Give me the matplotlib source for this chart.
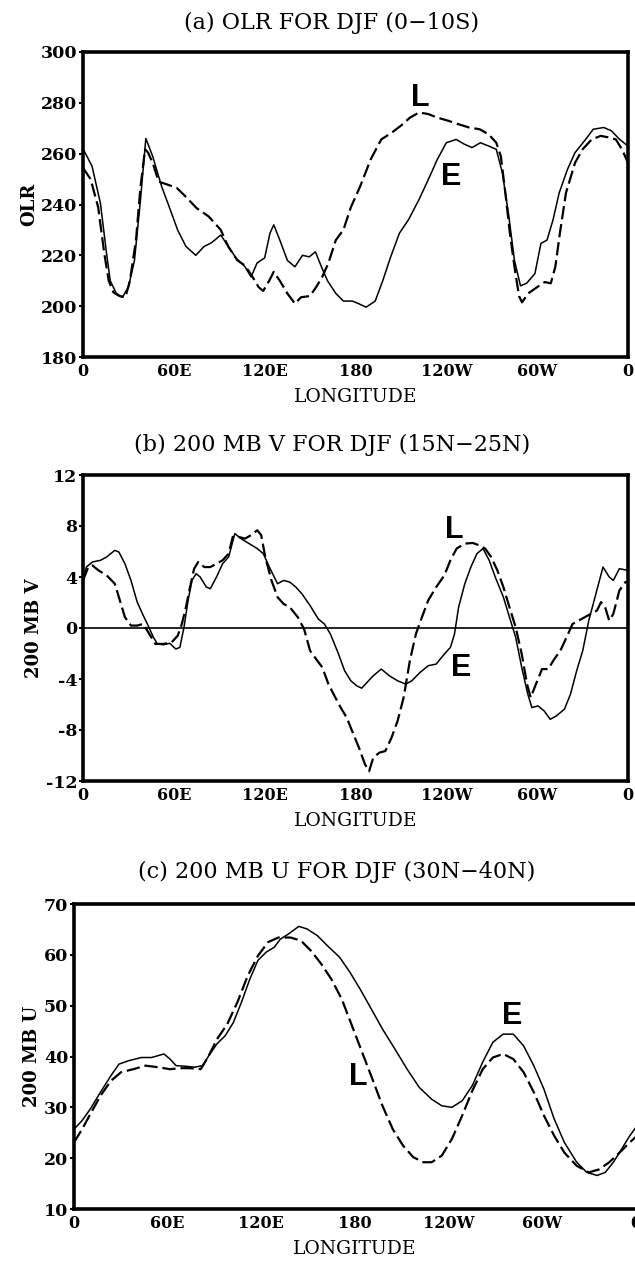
import matplotlib.pyplot as plt

# Longitude tick labels shared by all three panels
lon_ticks = [0, 60, 120, 180, 240, 300, 360]
lon_labels = ['0', '60E', '120E', '180', '120W', '60W', '0']

# (a) OLR, 0-10S
lon_a_e = [0, 6, 11.5, 15.5, 18, 22, 26, 30, 34, 38, 41.5, 46, 52, 57, 62.5, 68, 74.5, 80, 85, 91,
           96, 101, 107, 111, 115, 120, 123.5, 126, 130, 135, 140, 145, 149.5, 153.5, 157.5, 161.5,
           167, 172, 178, 182, 187, 193, 198, 203, 209, 215, 222, 229, 234, 240, 246.5, 252, 257,
           262.5, 268, 273, 277, 281, 285, 289, 293, 298.5, 302.5, 306.5, 310.5, 314.5, 320, 325,
           332, 337, 344, 349, 354.5, 360]
olr_e = [262, 255, 240.5, 221, 210, 205, 203.5, 207.5, 218, 242, 266, 259, 247, 239, 230, 223.5,
         220, 223.5, 225, 228, 223.5, 219, 215.5, 211.5, 217, 219, 228.7, 232, 226, 218, 215.5, 220,
         219.4, 221.4, 215.5, 210, 205, 202, 202, 201, 199.6, 202, 210, 219, 228.7, 234, 242, 251,
         257.7, 264.3, 265.6, 263.7, 262.4, 264.3, 263, 261.7, 252.5, 236.6, 218, 208, 209, 212.8,
         224.7, 226, 234, 244.5, 253.8, 260.4, 265.6, 269.6, 270.3, 269, 265.6, 263]
lon_a_l = [0, 5, 10, 14, 17, 20, 24, 28, 31, 35, 38, 41, 43, 46, 50, 55, 62, 68, 75, 83, 91, 96,
           102, 107, 112, 116, 119, 123, 126, 130, 135, 140, 144, 150, 154, 158, 162, 167, 172, 177,
           183, 190, 197, 204, 210, 216, 222, 228, 234, 241, 248, 255, 262, 268, 273, 276, 279, 282,
           285, 288, 290, 294, 300, 305, 309, 312, 315, 319, 325, 330, 336, 342, 348, 352, 356, 360]
olr_l = [254.4, 250, 239, 221, 210, 205.5, 204, 203.5, 210, 226, 247, 261.7, 260.4, 256.4, 249,
         248, 246.5, 243, 238.6, 235.3, 230, 223.4, 218, 216, 211.5, 207.5, 206, 210, 213.5, 210,
         205, 201, 203.5, 204, 207.5, 211.5, 216.8, 226, 230, 239, 247, 257.7, 265.6, 268.3, 271,
         274.2, 276.2, 275.6, 274.2, 273, 271.6, 270.3, 269.6, 267.6, 264.3, 259, 244.5, 228.7,
         215.5, 204, 201.5, 205, 207.5, 209.5, 209, 215.5, 228.7, 244.5, 256.4, 261.7, 265.6, 267,
         266.3, 265.6, 261.7, 256.4]

# (b) 200 mb V, 15N-25N
lon_b_e = [0, 2.2, 6.2, 11.6, 15.6, 21.0, 23.7, 27.7, 31.7, 35.8, 39.8, 42.5, 46.5, 49.2, 53.2,
           57.3, 61.3, 64.0, 66.7, 69.4, 72.0, 74.7, 77.4, 81.5, 84.1, 88.2, 92.2, 96.2, 100.3,
           104.3, 109.7, 115.1, 119.1, 123.1, 128.5, 132.5, 136.6, 140.6, 144.6, 150.0, 155.4,
           159.4, 163.4, 168.8, 172.8, 176.9, 180.9, 184.1, 187.6, 191.7, 197.0, 202.4, 207.8,
           213.2, 217.2, 222.6, 228.0, 233.3, 238.7, 242.7, 245.4, 248.1, 252.2, 256.2, 260.2,
           264.2, 268.3, 272.3, 277.7, 281.7, 285.8, 289.8, 293.8, 296.5, 300.5, 304.6, 308.6,
           312.6, 318.0, 322.0, 326.1, 330.1, 334.1, 338.2, 343.5, 347.6, 350.3, 354.3, 360]
v_e = [3.6, 4.78, 5.18, 5.31, 5.57, 6.09, 5.96, 5.04, 3.73, 2.03, 0.98, 0.32, -0.73, -1.25, -1.31,
       -1.2, -1.65, -1.52, 0.06, 2.16, 3.73, 4.26, 4.0, 3.21, 3.08, 4.0, 5.04, 5.57, 7.41, 7.01,
       6.62, 6.23, 5.83, 4.78, 3.47, 3.73, 3.6, 3.21, 2.68, 1.76, 0.71, 0.32, -0.47, -2.04, -3.35,
       -4.14, -4.54, -4.72, -4.27, -3.75, -3.22, -3.75, -4.14, -4.4, -4.14, -3.49, -2.96, -2.83,
       -2.04, -1.52, -0.47, 1.63, 3.47, 4.78, 5.83, 6.23, 5.31, 4.0, 2.42, 0.85, -0.73, -3.09,
       -5.19, -6.24, -6.11, -6.5, -7.16, -6.9, -6.37, -5.19, -3.35, -1.78, 0.58, 2.42, 4.78, 4.0,
       3.73, 4.65, 4.52]
lon_b_l = [0, 3.5, 6.2, 10.2, 15.6, 21.0, 23.7, 27.7, 31.7, 35.8, 39.8, 43.8, 47.8, 53.2, 58.6,
           62.6, 65.3, 68.0, 70.7, 73.4, 76.1, 80.1, 84.1, 88.2, 92.2, 96.2, 98.9, 103.0, 107.0,
           111.0, 115.1, 117.7, 120.4, 124.5, 128.5, 132.5, 136.6, 141.9, 146.0, 150.0, 154.0,
           158.1, 162.1, 166.1, 170.2, 174.2, 178.2, 182.3, 186.3, 189.0, 191.7, 195.7, 199.7,
           203.8, 207.8, 211.8, 215.9, 219.9, 223.9, 228.0, 233.3, 238.7, 242.7, 246.8, 252.2,
           257.5, 261.6, 265.6, 269.6, 273.7, 277.7, 281.7, 285.8, 289.8, 293.3, 295.7, 299.2,
           303.2, 307.3, 311.3, 315.3, 319.4, 323.4, 327.4, 331.5, 335.5, 339.5, 342.2, 344.9,
           347.6, 350.3, 354.3, 358.3, 360]
v_l = [3.73, 4.78, 4.91, 4.52, 4.13, 3.47, 2.42, 0.85, 0.19, 0.19, 0.32, -0.47, -1.25, -1.25,
       -1.12, -0.6, 0.32, 1.63, 3.21, 4.65, 5.18, 4.78, 4.78, 5.04, 5.31, 5.83, 7.14, 7.14, 7.01,
       7.28, 7.67, 7.28, 5.57, 3.73, 2.42, 1.89, 1.63, 0.85, -0.07, -1.78, -2.44, -3.09, -4.4,
       -5.32, -6.24, -7.03, -8.21, -9.39, -10.7, -11.23, -10.18, -9.78, -9.65, -8.6, -7.29, -5.45,
       -2.57, -0.47, 0.85, 2.16, 3.21, 4.13, 5.31, 6.23, 6.62, 6.67, 6.49, 6.23, 5.57, 4.52, 3.21,
       1.63, 0.06, -2.04, -4.4, -5.45, -4.4, -3.22, -3.22, -2.44, -1.78, -0.73, 0.32, 0.58, 0.85,
       1.11, 1.37, 2.03, 1.63, 0.58, 1.11, 2.94, 3.6, 3.6]

# (c) 200 mb U, 30N-40N
lon_c_e = [0, 5.2, 10.5, 17.0, 23.6, 28.8, 35.3, 43.2, 49.7, 57.6, 61.5, 65.4, 70.7, 77.2, 82.5,
           86.4, 91.6, 96.9, 102.1, 107.3, 112.6, 117.8, 123.0, 128.3, 132.2, 137.4, 144.0, 149.2,
           155.8, 162.3, 170.2, 176.7, 183.2, 189.8, 197.6, 205.5, 213.4, 221.2, 229.1, 235.6,
           242.1, 248.7, 255.2, 261.8, 268.3, 274.9, 281.4, 288.0, 294.5, 301.0, 307.6, 314.1,
           322.0, 328.5, 335.1, 340.3, 345.5, 350.8, 356.0, 360.7]
u_e = [25.7, 27.4, 29.7, 33.0, 36.2, 38.5, 39.2, 39.8, 39.8, 40.5, 39.5, 38.2, 38.1, 37.9, 38.2,
       40.2, 42.5, 44.1, 46.7, 50.7, 55.2, 58.9, 60.5, 61.5, 63.1, 64.1, 65.6, 65.1, 63.8, 61.8,
       59.5, 56.6, 53.3, 49.7, 45.4, 41.5, 37.5, 33.9, 31.6, 30.3, 30.0, 31.3, 34.3, 38.9, 42.8,
       44.4, 44.4, 42.1, 38.2, 33.6, 27.7, 23.1, 19.2, 17.2, 16.6, 17.2, 19.2, 21.8, 24.4, 26.4]
lon_c_l = [0, 5.2, 10.5, 17.0, 23.6, 30.1, 37.9, 45.8, 53.7, 61.5, 68.1, 74.6, 81.2, 86.4, 91.6,
           98.2, 104.7, 111.3, 117.8, 124.3, 130.9, 138.7, 145.3, 151.8, 158.4, 164.9, 171.5,
           178.0, 184.6, 191.1, 197.6, 204.2, 210.7, 217.3, 223.8, 229.1, 235.6, 242.1, 248.7,
           255.2, 261.8, 268.3, 274.9, 281.4, 288.0, 294.5, 301.0, 307.6, 314.1, 322.0, 329.8,
           336.4, 342.9, 349.5, 356.0, 360.7]
u_l = [23.1, 25.7, 28.7, 32.3, 35.2, 36.9, 37.5, 38.2, 37.9, 37.5, 37.7, 37.7, 37.5, 40.2, 43.4,
       46.4, 50.7, 55.9, 59.8, 62.5, 63.4, 63.4, 62.8, 60.8, 58.2, 55.2, 51.3, 46.1, 40.8, 35.6,
       30.3, 25.7, 22.5, 20.2, 19.2, 19.2, 20.5, 23.8, 28.4, 33.3, 37.5, 39.8, 40.5, 39.5, 36.9,
       33.0, 28.4, 24.4, 21.1, 18.5, 17.2, 17.8, 19.2, 21.1, 23.1, 24.4]

W, H = 635, 1267
fig = plt.figure(figsize=(W / 100, H / 100), dpi=100)

serif = 'DejaVu Serif'


def make_axes(left, right, top, bottom):
    return fig.add_axes([left / W, 1 - bottom / H, (right - left) / W, (bottom - top) / H])


def style(ax, title, title_x, title_y, ylabel, ylim, yticks):
    ax.set_xlim(0, 360)
    ax.set_ylim(*ylim)
    ax.set_xticks(lon_ticks)
    ax.set_xticklabels(lon_labels, family=serif, weight='bold', fontsize=11.5)
    ax.set_yticks(yticks)
    ax.set_yticklabels([str(t) for t in yticks], family=serif, weight='bold', fontsize=12.5)
    ax.tick_params(axis='y', direction='out', length=3, width=1.5, pad=1)
    ax.tick_params(axis='x', direction='in', length=0, pad=4)
    for s in ax.spines.values():
        s.set_linewidth(2.6)
    ax.set_xlabel('LONGITUDE', family=serif, fontsize=13.5, labelpad=6)
    ax.set_ylabel(ylabel, family=serif, weight='bold', fontsize=13, labelpad=2)
    fig.text(title_x / W, 1 - title_y / H, title, family=serif, fontsize=16,
             ha='center', va='center')


def curves(ax, xe, ye, xl, yl):
    ax.plot(xe, ye, color='black', lw=1.1, solid_joinstyle='round')
    ax.plot(xl, yl, color='black', lw=1.6, dashes=(6, 2.2))


lab = dict(family='Liberation Sans', weight='bold', fontsize=22, ha='center', va='center')

# panel (a)
ax1 = make_axes(83, 628, 52, 357)
curves(ax1, lon_a_e, olr_e, lon_a_l, olr_l)
style(ax1, '(a) OLR FOR DJF (0\u221210S)', 332, 23, 'OLR', (180, 300),
      [180, 200, 220, 240, 260, 280, 300])
ax1.text(223, 282, 'L', **lab)
ax1.text(243, 251, 'E', **lab)

# panel (b)
ax2 = make_axes(83, 628, 475, 781)
ax2.axhline(0, color='black', lw=1.2)
curves(ax2, lon_b_e, v_e, lon_b_l, v_l)
style(ax2, '(b) 200 MB V FOR DJF (15N\u221225N)', 332, 445, '200 MB V', (-12, 12),
      [-12, -8, -4, 0, 4, 8, 12])
ax2.text(245, 7.7, 'L', **lab)
ax2.text(249.5, -3.1, 'E', **lab)

# panel (c)
ax3 = make_axes(74, 636, 904, 1209)
curves(ax3, lon_c_e, u_e, lon_c_l, u_l)
style(ax3, '(c) 200 MB U FOR DJF (30N\u221240N)', 337, 872, '200 MB U', (10, 70),
      [10, 20, 30, 40, 50, 60, 70])
ax3.spines['right'].set_visible(False)
ax3.text(281, 48, 'E', **lab)
ax3.text(182, 36, 'L', **lab)

fig.savefig('out.png', dpi=100, facecolor='white')
